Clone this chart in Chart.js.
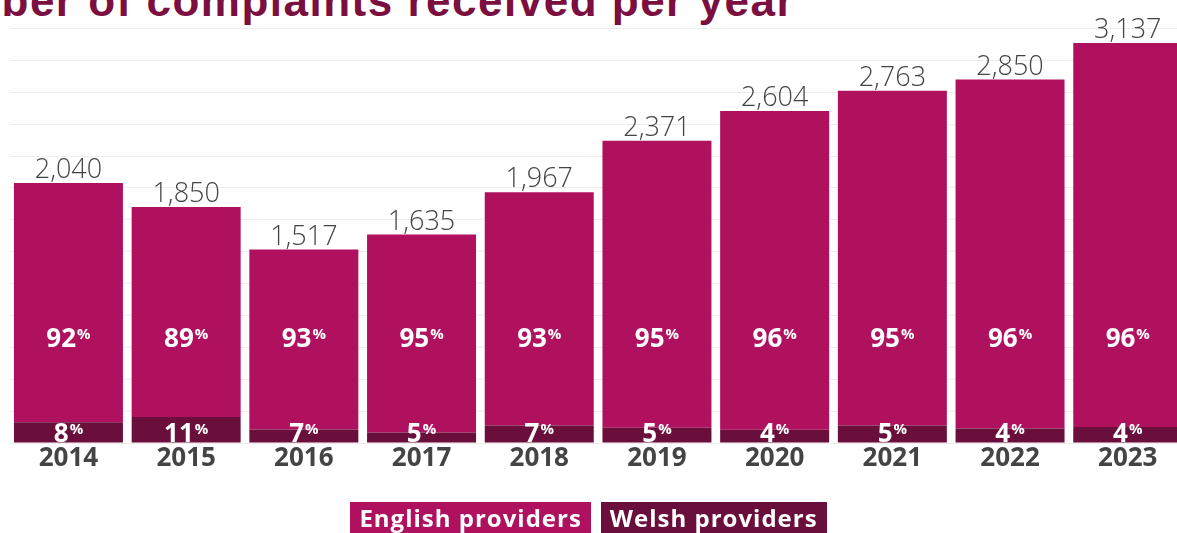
<!DOCTYPE html>
<html>
<head>
<meta charset="utf-8">
<script src="https://cdn.jsdelivr.net/npm/chart.js@4.4.1/dist/chart.umd.min.js"></script>
<style>
  html, body { margin: 0; padding: 0; background: #fff; overflow: hidden; }
  body { width: 1177px; height: 533px; position: relative; }
  #titulo {
    position: absolute; right: 382px; top: -24px; margin: 0;
    white-space: nowrap; text-align: right; line-height: 1;
    font: bold 44px "Liberation Sans", Arial, sans-serif; letter-spacing: 1.5px;
    color: #7a0f40;
  }
  #grafico { position: absolute; left: 0; top: 0; width: 1190px; height: 533px; }
  #legenda {
    position: absolute; left: 0; width: 1177px; top: 502px;
    display: flex; justify-content: center; gap: 10px;
  }
  #legenda span {
    color: #fff; font: bold 24px "Open Sans", Lato, sans-serif; letter-spacing: 1px;
    padding: 0 9px 1px 9px; line-height: 31px;
  }
</style>
</head>
<body>
<h1 id="titulo">Number of complaints received per year</h1>
<div id="grafico"><canvas id="cv"></canvas></div>
<div id="legenda">
  <span style="background:#b0115e">English providers</span>
  <span style="background:#6a0f3b">Welsh providers</span>
</div>
<script>
// dados por ano
const anos = ['2014', '2015', '2016', '2017', '2018', '2019', '2020', '2021', '2022', '2023'];
const totais = [2040, 1850, 1517, 1635, 1967, 2371, 2604, 2763, 2850, 3137];
const pctIngles = [92, 89, 93, 95, 93, 95, 96, 95, 96, 96];
const pctGales = [8, 11, 7, 5, 7, 5, 4, 5, 4, 4];

const corIngles = '#b0115e';
const corGales = '#6a0f3b';
const fonte = '"Open Sans", Lato, sans-serif';

// quantidades de cada segmento a partir do total e da percentagem
const gales = totais.map((t, i) => Math.round(t * pctGales[i] / 100));
const ingles = totais.map((t, i) => t - gales[i]);

function fmt(n) {
  return n.toLocaleString('en-GB');
}

// escreve "92%" com o % pequeno em expoente
function escreverPct(ctx, x, base, valor) {
  const num = String(valor);
  ctx.font = 'bold 26px ' + fonte;
  const wNum = ctx.measureText(num).width;
  ctx.font = 'bold 15px ' + fonte;
  const wPct = ctx.measureText('%').width;
  const x0 = x - (wNum + wPct + 1) / 2;
  ctx.fillStyle = '#fff';
  ctx.textAlign = 'left';
  ctx.textBaseline = 'alphabetic';
  ctx.font = 'bold 26px ' + fonte;
  ctx.fillText(num, x0, base);
  ctx.font = 'bold 15px ' + fonte;
  ctx.fillText('%', x0 + wNum + 1, base - 8);
}

const rotulos = {
  id: 'rotulos',
  afterDatasetsDraw(chart) {
    const ctx = chart.ctx;
    const y = chart.scales.y;
    const zero = y.getPixelForValue(0);
    const barrasTopo = chart.getDatasetMeta(1).data;
    ctx.save();
    barrasTopo.forEach((bar, i) => {
      // total acima da barra
      ctx.font = '300 27px ' + fonte;
      ctx.fillStyle = '#444';
      ctx.textAlign = 'center';
      ctx.textBaseline = 'alphabetic';
      ctx.fillText(fmt(totais[i]), bar.x, bar.y - 5);
      escreverPct(ctx, bar.x, zero - 96, pctIngles[i]);
      escreverPct(ctx, bar.x, zero - 1, pctGales[i]);
    });
    ctx.restore();
  }
};

new Chart(document.getElementById('cv'), {
  type: 'bar',
  data: {
    labels: anos,
    datasets: [
      { label: 'Welsh providers', data: gales, backgroundColor: corGales },
      { label: 'English providers', data: ingles, backgroundColor: corIngles }
    ]
  },
  options: {
    responsive: true,
    maintainAspectRatio: false,
    animation: false,
    layout: { padding: { left: 9.6, right: 3.4, top: 28.6, bottom: 50 } },
    datasets: { bar: { barPercentage: 0.926, categoryPercentage: 1, borderWidth: 0 } },
    scales: {
      x: {
        stacked: true,
        grid: { display: false },
        border: { display: false },
        ticks: { color: '#444', padding: -8, font: { family: fonte, size: 26, weight: 'bold' } },
        afterFit(scale) { scale.height = 40; }
      },
      y: {
        stacked: true,
        min: 0,
        max: 3250,
        ticks: { display: false, stepSize: 250 },
        grid: { color: '#ededed', drawTicks: false },
        border: { display: false },
        afterFit(scale) { scale.width = 0; }
      }
    },
    plugins: {
      legend: { display: false },
      tooltip: { enabled: false }
    }
  },
  plugins: [rotulos]
});
</script>
</body>
</html>
